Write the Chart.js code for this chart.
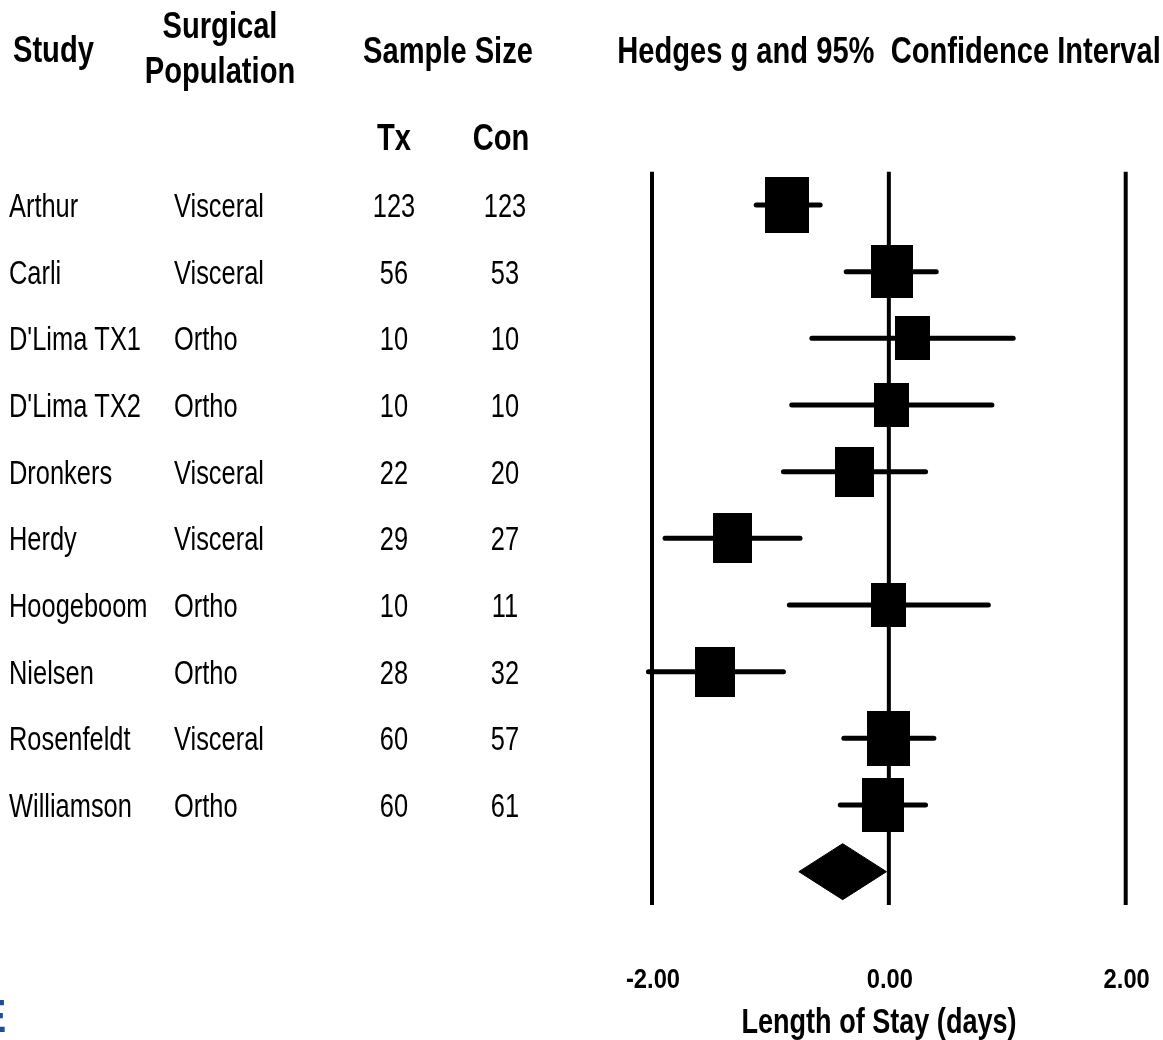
<!DOCTYPE html>
<html><head><meta charset="utf-8">
<script src="https://cdn.jsdelivr.net/npm/chart.js@4.4.1/dist/chart.umd.min.js"></script>
<style>html,body{margin:0;padding:0;background:#fff;overflow:hidden}canvas{display:block}</style>
</head><body>
<canvas id="c" width="1163" height="1040"></canvas>
<script>
// ---- data ----
const studies = ["Arthur","Carli","D'Lima TX1","D'Lima TX2","Dronkers","Herdy","Hoogeboom","Nielsen","Rosenfeldt","Williamson"];
const populations = ["Visceral","Visceral","Ortho","Ortho","Visceral","Visceral","Ortho","Ortho","Visceral","Ortho"];
const txN = [123,56,10,10,22,29,10,28,60,60];
const conN = [123,53,10,10,20,27,11,32,57,61];
const hedgesG = [-0.86,0.03,0.20,0.02,-0.29,-1.32,0.00,-1.47,0.00,-0.05];
const ciLower = [-1.12,-0.36,-0.65,-0.82,-0.89,-1.89,-0.84,-2.03,-0.38,-0.41];
const ciUpper = [-0.58,0.40,1.05,0.87,0.31,-0.75,0.84,-0.89,0.38,0.31];
const weights = [12.5,11.3,7.8,7.9,9.9,9.9,7.8,10.1,12.0,11.6];
const summary = [-0.76,-0.39,-0.02]; // lower, estimate, upper
const xTicks = [-2,0,2];
const xTickLabels = ["-2.00","0.00","2.00"];

// ---- marks ----
function boxCanvas(w){
  const c=document.createElement('canvas');
  c.width=Math.round(Math.sqrt(w)*12.45);
  c.height=Math.round(Math.sqrt(w)*15.8);
  const x=c.getContext('2d'); x.fillStyle='#000'; x.fillRect(0,0,c.width,c.height);
  return c;
}
const boxes = weights.map(boxCanvas);
const sumRow = studies.length;
const dh = 0.42;

const datasets = [];
datasets.push({type:'scatter', data:hedgesG.map((g,i)=>({x:g,y:i})), pointStyle:ctx=>boxes[ctx.dataIndex],
  pointRadius:5, backgroundColor:'#000', borderColor:'#000', order:0, clip:false});
datasets.push({type:'line', data:[{x:summary[0],y:sumRow},{x:summary[1],y:sumRow-dh},{x:summary[2],y:sumRow},{x:summary[1],y:sumRow+dh},{x:summary[0],y:sumRow}],
  fill:'shape', backgroundColor:'#000', borderColor:'#000', borderWidth:1, pointRadius:0, tension:0, order:1, clip:false});
studies.forEach((s,i)=>datasets.push({type:'line', data:[{x:ciLower[i],y:i},{x:ciUpper[i],y:i}],
  borderColor:'#000', borderWidth:5, borderCapStyle:'round', pointRadius:0, fill:false, order:2, clip:false}));
xTicks.forEach(t=>datasets.push({type:'line', data:[{x:t,y:-0.5},{x:t,y:sumRow+0.5}],
  borderColor:'#000', borderWidth:4, pointRadius:0, fill:false, order:3, clip:false}));

const F = "'Liberation Sans',Arial,sans-serif";
const SY = 1.05;
function txt(ctx, s, x, y, align, sx){
  ctx.save();
  ctx.translate(x, y);
  ctx.scale(sx || 0.82, SY);
  ctx.textAlign = align;
  ctx.fillText(s, 0, 0);
  ctx.restore();
}
const textPlugin = {
  id:'texts',
  afterDraw(chart){
    const ctx=chart.ctx, xs=chart.scales.x, ys=chart.scales.y;
    ctx.save();
    ctx.fillStyle='#000'; ctx.textBaseline='alphabetic';
    ctx.font='bold 35.5px '+F;
    txt(ctx,'Study',13,62,'left');
    txt(ctx,'Surgical',220,38,'center');
    txt(ctx,'Population',220,83,'center');
    txt(ctx,'Sample Size',448,63,'center');
    txt(ctx,'Tx',394,150,'center');
    txt(ctx,'Con',501,150,'center');
    txt(ctx,'Hedges g and 95%  Confidence Interval',889,63,'center');
    ctx.font='31px '+F;
    studies.forEach((s,i)=>{
      const y=ys.getPixelForValue(i)+12;
      txt(ctx,s,9,y,'left');
      txt(ctx,populations[i],174,y,'left');
      txt(ctx,String(txN[i]),394,y,'center');
      txt(ctx,String(conN[i]),505,y,'center');
    });
    ctx.font='bold 27px '+F;
    xTicks.forEach((t,i)=>{ txt(ctx,xTickLabels[i], xs.getPixelForValue(t)+1, 988,'center',0.88); });
    ctx.font='bold 33px '+F;
    txt(ctx,'Length of Stay (days)',879,1033,'center');
    ctx.fillStyle='#1f4e96'; ctx.font='bold 44px '+F;
    txt(ctx,'E',6,1032,'right');
    ctx.restore();
  }
};

new Chart(document.getElementById('c'),{
  type:'scatter',
  data:{datasets},
  options:{
    responsive:false, animation:false, devicePixelRatio:1, events:[],
    layout:{padding:{left:652,right:37.3,top:171.7,bottom:135}},
    scales:{
      x:{type:'linear',min:-2,max:2,display:false},
      y:{type:'linear',min:-0.5,max:sumRow+0.5,reverse:true,display:false}
    },
    plugins:{legend:{display:false},tooltip:{enabled:false}}
  },
  plugins:[textPlugin]
});
</script>
</body></html>
